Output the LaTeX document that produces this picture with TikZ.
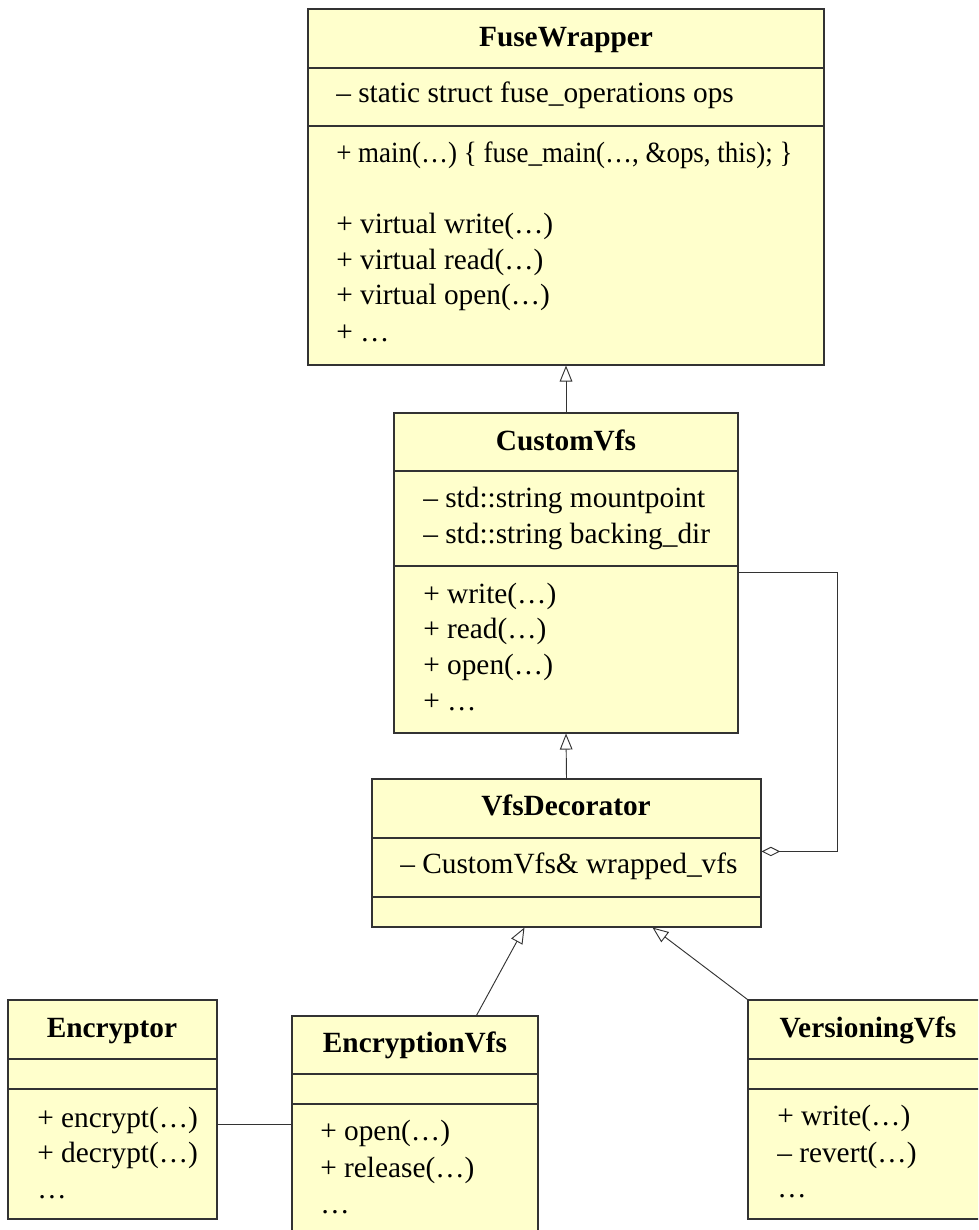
\documentclass[tikz,border=0pt]{standalone}
\usepackage{fontspec}
\usepackage{graphicx}
\setmainfont{Liberation Serif}
\usetikzlibrary{arrows.meta,fit,calc}
\definecolor{umlfill}{HTML}{FFFFCC}
\definecolor{umlline}{HTML}{333333}
\begin{document}
\begin{tikzpicture}[x=0.75pt,y=-0.75pt,
  classbox/.style={draw=umlline, fill=umlfill, line width=0.8pt, inner sep=0pt},
  sepline/.style={draw=umlline, line width=0.8pt},
  title/.style={font=\fontsize{22}{26}\selectfont\bfseries, anchor=base, inner sep=0pt},
  member/.style={font=\fontsize{22}{26}\selectfont, anchor=base west, inner sep=0pt},
  conn/.style={draw=umlline, line width=0.7pt},
  inherit/.style={conn, -{Triangle[open, length=12pt, width=9.5pt]}},
  aggr/.style={conn, -{Diamond[open, length=14pt, width=7pt]}}]
\useasboundingbox (0,0) rectangle (978,1230);
\clip (0,0) rectangle (978,1230);

% FuseWrapper
\node[classbox, fit={(308,9) (824,365)}] (fuse) {};
\draw[sepline] (308,68) -- (824,68);
\draw[sepline] (308,126) -- (824,126);
\node[title] (fuset) at (566,47) {FuseWrapper};
\node[member] (fusea1) at (336,103) {– static struct fuse\_operations ops};
\node[member] (fusem1) at (336,163) {\scalebox{0.92}[1]{+ main(…) \{ fuse\_main(…, \&ops, this); \}}};
\node[member] (fusem2) at (336,234) {+ virtual write(…)};
\node[member] (fusem3) at (336,270) {+ virtual read(…)};
\node[member] (fusem4) at (336,305) {+ virtual open(…)};
\node[member] (fusem5) at (336,341) {+ …};

% CustomVfs
\node[classbox, fit={(394,413) (738,733)}] (custom) {};
\draw[sepline] (394,471) -- (738,471);
\draw[sepline] (394,566) -- (738,566);
\node[title] (customt) at (566,450) {CustomVfs};
\node[member] (customa1) at (423,507) {– std::string mountpoint};
\node[member] (customa2) at (423,543) {– std::string backing\_dir};
\node[member] (customm1) at (423,603) {+ write(…)};
\node[member] (customm2) at (423,638) {+ read(…)};
\node[member] (customm3) at (423,674) {+ open(…)};
\node[member] (customm4) at (423,710) {+ …};

% VfsDecorator
\node[classbox, fit={(372,779) (761,927)}] (vdec) {};
\draw[sepline] (372,838) -- (761,838);
\draw[sepline] (372,897) -- (761,897);
\node[title] (vdect) at (566,815) {VfsDecorator};
\node[member] (vdeca1) at (400,873) {– CustomVfs\& wrapped\_vfs};

% Encryptor
\node[classbox, fit={(8,1000) (217,1219)}] (enc) {};
\draw[sepline] (8,1059) -- (217,1059);
\draw[sepline] (8,1089) -- (217,1089);
\node[title] (enct) at (112,1037) {Encryptor};
\node[member] (encm1) at (37,1127) {+ encrypt(…)};
\node[member] (encm2) at (37,1162) {+ decrypt(…)};
\node[member] (encm3) at (37,1198) {…};

% EncryptionVfs
\node[classbox, fit={(292,1016) (538,1250)}] (encv) {};
\draw[sepline] (292,1074) -- (538,1074);
\draw[sepline] (292,1104) -- (538,1104);
\node[title] (encvt) at (415,1052) {EncryptionVfs};
\node[member] (encvm1) at (320,1140) {+ open(…)};
\node[member] (encvm2) at (320,1177) {+ release(…)};
\node[member] (encvm3) at (320,1213) {…};

% VersioningVfs
\node[classbox, fit={(748,1000) (990,1219)}] (vers) {};
\draw[sepline] (748,1059) -- (990,1059);
\draw[sepline] (748,1089) -- (990,1089);
\node[title] (verst) at (868,1037) {VersioningVfs};
\node[member] (versm1) at (777,1125) {+ write(…)};
\node[member] (versm2) at (777,1162) {– revert(…)};
\node[member] (versm3) at (777,1197) {…};

% connectors
\draw[inherit] (custom.north) -- (fuse.south);
\draw[inherit] (vdec.north) -- (custom.south);
\coordinate (encTop) at ($(encv.north west)+(185,0)$);
\coordinate (vdecL) at ($(vdec.south west)+(153,0)$);
\draw[inherit] (encTop) -- (vdecL);
\coordinate (vdecR) at ($(vdec.south west)+(281,0)$);
\draw[inherit] (vers.north west) -- (vdecR);
\coordinate (agA) at ($(custom.north east)+(0,160)$);
\coordinate (agB) at ($(vdec.north east)+(0,73)$);
\draw[aggr] (agA) -| ($(agB)+(76,0)$) -- (agB);
\coordinate (asA) at ($(enc.north east)+(0,125)$);
\coordinate (asB) at ($(encv.north west)+(0,109)$);
\draw[conn] (asA) -- (asB);
\end{tikzpicture}
\end{document}
